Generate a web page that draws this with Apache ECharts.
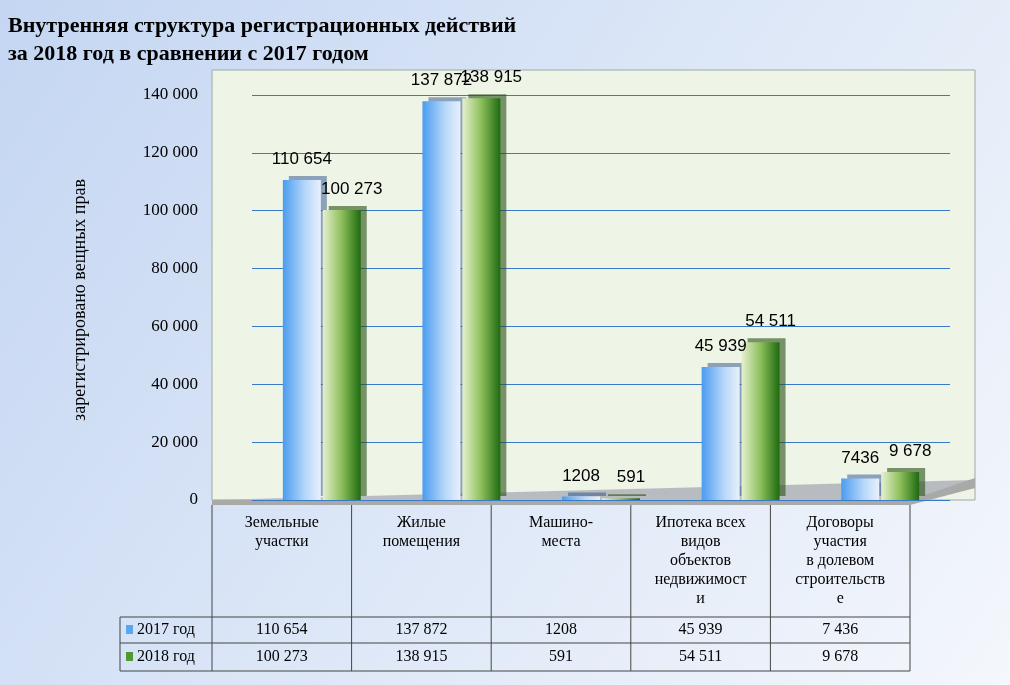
<!DOCTYPE html>
<html><head><meta charset="utf-8">
<script src="https://cdn.jsdelivr.net/npm/echarts@6/dist/echarts.min.js"></script>
<style>html,body{margin:0;padding:0}#c{width:1010px;height:685px}</style>
</head><body><div id="c"></div>
<script>
const categories = ['Земельные\nучастки','Жилые\nпомещения','Машино-\nместа','Ипотека всех\nвидов\nобъектов\nнедвижимост\nи','Договоры\nучастия\nв долевом\nстроительств\nе'];
const s2017 = [110654, 137872, 1208, 45939, 7436];
const s2018 = [100273, 138915, 591, 54511, 9678];
const lab2017 = ['110 654','137 872','1208','45 939','7436'];
const lab2018 = ['100 273','138 915','591','54 511','9 678'];
const tab2017 = ['110 654','137 872','1208','45 939','7 436'];
const tab2018 = ['100 273','138 915','591','54 511','9 678'];
const yTicks = [0,20000,40000,60000,80000,100000,120000,140000];

const L=212,R=910,T=95,B=500,colW=(R-L)/5;
const g=[];
g.push({type:'rect',shape:{x:L,y:T-25,width:975-L,height:B-T+25},style:{fill:'#eef4e6',stroke:'#9aa',lineWidth:1},z:-10});
g.push({type:'polygon',shape:{points:[[L,B],[975,B-20],[975,B-12],[910,B],[L,B]]},style:{fill:'#b8bcc0'},z:-9});
g.push({type:'polygon',shape:{points:[[L,B],[910,B],[975,478],[975,488],[910,B+5],[L,B+5]]},style:{fill:'#a8aaa8'},z:-9});
const tl='#444';
g.push({type:'line',shape:{x1:L,y1:B+5,x2:L,y2:671},style:{stroke:tl}});
for(let i=1;i<=5;i++) g.push({type:'line',shape:{x1:L+colW*i,y1:B+5,x2:L+colW*i,y2:671},style:{stroke:tl}});
[617,643,671].forEach(y=>g.push({type:'line',shape:{x1:120,y1:y,x2:R,y2:y},style:{stroke:tl}}));
g.push({type:'line',shape:{x1:120,y1:617,x2:120,y2:671},style:{stroke:tl}});
categories.forEach((c,i)=>{
  g.push({type:'text',style:{x:L+colW*i+colW/2,y:513,text:c,fill:'#000',font:'16px "Liberation Serif"',align:'center',verticalAlign:'top',lineHeight:19}});
  g.push({type:'text',style:{x:L+colW*i+colW/2,y:630,text:tab2017[i],fill:'#000',font:'16px "Liberation Serif"',align:'center',verticalAlign:'middle'}});
  g.push({type:'text',style:{x:L+colW*i+colW/2,y:657,text:tab2018[i],fill:'#000',font:'16px "Liberation Serif"',align:'center',verticalAlign:'middle'}});
});
g.push({type:'rect',shape:{x:126,y:625,width:7,height:9},style:{fill:'#5aa6f0'}});
g.push({type:'rect',shape:{x:126,y:652,width:7,height:9},style:{fill:'#4e9a30'}});
g.push({type:'text',style:{x:137,y:630,text:'2017 год',font:'16px "Liberation Serif"',fill:'#000',verticalAlign:'middle'}});
g.push({type:'text',style:{x:137,y:657,text:'2018 год',font:'16px "Liberation Serif"',fill:'#000',verticalAlign:'middle'}});
g.push({type:'text',style:{x:8,y:12,text:'Внутренняя структура регистрационных действий\nза 2018 год в сравнении с 2017 годом',font:'bold 22px "Liberation Serif"',fill:'#000',lineHeight:28}});
g.push({type:'text',rotation:Math.PI/2,x:80,y:300,style:{text:'зарегистрировано вещных прав',font:'18px "Liberation Serif"',fill:'#000',align:'center',verticalAlign:'middle'}});

const blue={type:'linear',x:0,y:0,x2:1,y2:0,colorStops:[{offset:0,color:'#4a9cf0'},{offset:0.6,color:'#b8d8fa'},{offset:1,color:'#e8f0fa'}]};
const green={type:'linear',x:0,y:0,x2:1,y2:0,colorStops:[{offset:0,color:'#e6f0d0'},{offset:0.5,color:'#8cbf5a'},{offset:1,color:'#1e6a10'}]};
const chart=echarts.init(document.getElementById('c'));
chart.setOption({
  backgroundColor:{type:'linear',x:0,y:0,x2:1,y2:1,colorStops:[{offset:0,color:'#c4d6f2'},{offset:1,color:'#f4f7fc'}]},
  animation:false,
  grid:{left:L+40,right:1010-R-40,top:T,bottom:685-B},
  xAxis:{type:'category',data:categories,axisLabel:{show:false},axisTick:{show:false},axisLine:{show:false}},
  yAxis:{type:'value',min:0,max:140000,interval:20000,
    axisLabel:{formatter:v=>v.toLocaleString('ru-RU').replace(/\s/g,' '),fontSize:17,fontFamily:'Liberation Serif',color:'#000',margin:54},
    splitLine:{lineStyle:{color:'#3a78c8',width:1}},axisLine:{show:false}},
  graphic:g,
  series:[
    {type:'bar',data:s2017,barWidth:38,barGap:'5%',itemStyle:{color:blue,shadowColor:'rgba(40,80,140,0.5)',shadowOffsetX:6,shadowOffsetY:-4},
     label:{show:true,position:'top',formatter:p=>lab2017[p.dataIndex],fontSize:17,color:'#000',fontFamily:'Liberation Sans',distance:12}},
    {type:'bar',data:s2018,barWidth:38,itemStyle:{color:green,shadowColor:'rgba(40,80,20,0.6)',shadowOffsetX:6,shadowOffsetY:-4},
     label:{show:true,position:'top',formatter:p=>lab2018[p.dataIndex],fontSize:17,color:'#000',fontFamily:'Liberation Sans',distance:12,offset:[10,0]}}
  ]
});
</script></body></html>
